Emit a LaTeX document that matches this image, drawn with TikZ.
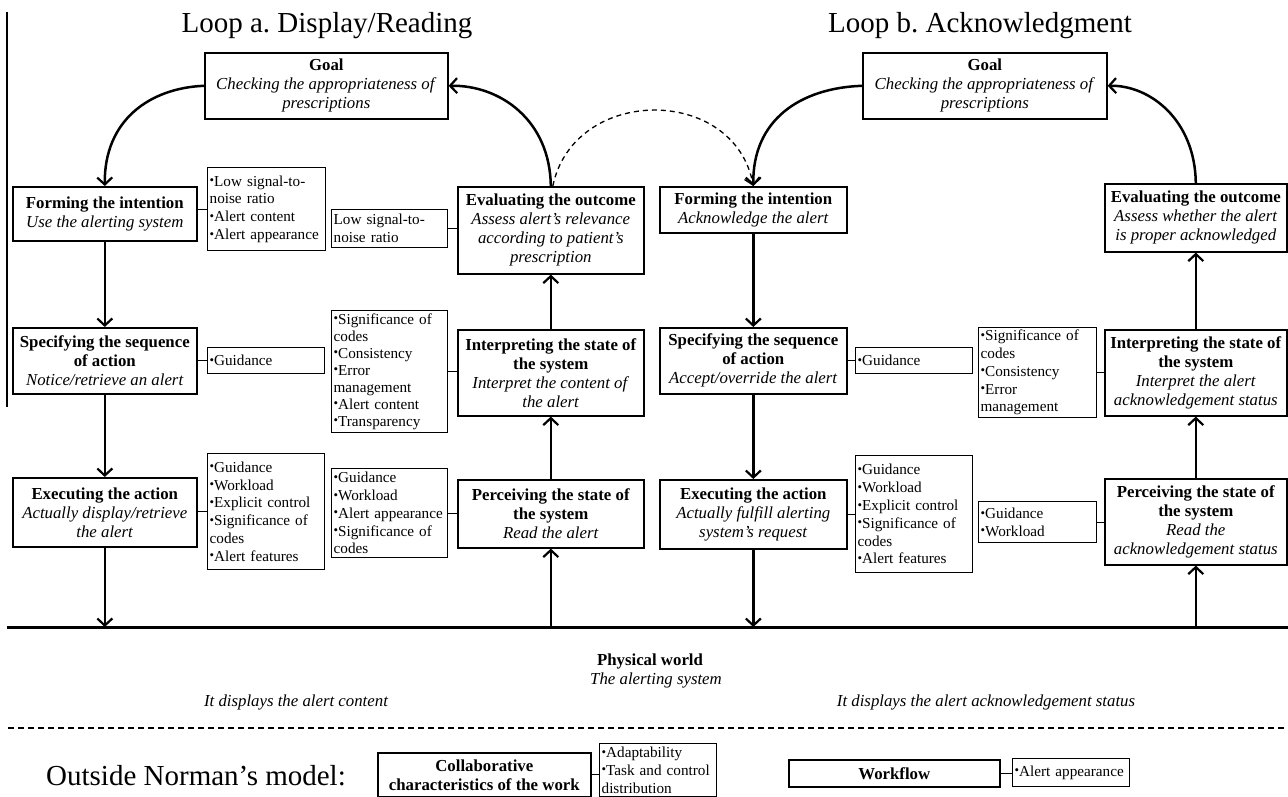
\documentclass[tikz,border=0pt]{standalone}
\usepackage{fontspec}
\setmainfont{Liberation Serif}
\usepackage{graphicx}
\usetikzlibrary{arrows.meta}
\newcommand{\bul}{\raisebox{0.2ex}{\scalebox{0.85}{•}}}
\frenchspacing
\begin{document}
\begin{tikzpicture}[x=1pt,y=-1pt,
  mbox/.style={draw, line width=1.6pt, align=center, inner sep=0pt, anchor=north west,
    font=\fontsize{16.8}{19}\selectfont},
  abox/.style={draw, line width=1.3pt, align=left, inner sep=2pt, anchor=north west,
    font=\fontsize{15.2}{17.8}\selectfont},
  arr/.style={line width=2.5pt, -{Straight Barb[length=7pt,width=15pt,line width=2.2pt]}},
  dasharr/.style={line width=1.3pt, dash pattern=on 5pt off 4pt,
    -{Straight Barb[length=7pt,width=15pt,line width=1.3pt]}},
  conn/.style={line width=1.2pt},
  title/.style={anchor=base, inner sep=0pt, font=\fontsize{29}{32}\selectfont\frenchspacing},
  itext/.style={inner sep=0pt, font=\fontsize{16.8}{19}\selectfont\itshape},
]
\useasboundingbox (0,0) rectangle (1288,797);
\fill[white] (0,0) rectangle (1288,797);

% stray left rule
\draw[conn] (7,12) -- (7,407);

% titles
\node[title] (titleA) at (327,33) {Loop a.\ Display/Reading};
\node[title] (titleB) at (980,33) {Loop b.\ Acknowledgment};

% goals
\node[mbox, minimum width=243pt, minimum height=66pt] (goalA) at (204,52)
  {\textbf{Goal}\\\textit{Checking the appropriateness of}\\\textit{prescriptions}};
\node[mbox, minimum width=244pt, minimum height=66pt] (goalB) at (862,52)
  {\textbf{Goal}\\\textit{Checking the appropriateness of}\\\textit{prescriptions}};

% loop a, left column
\node[mbox, minimum width=184pt, minimum height=54pt] (formA) at (12,186)
  {\textbf{Forming the intention}\\\textit{Use the alerting system}};
\node[mbox, minimum width=184pt, minimum height=66pt] (specA) at (12,327)
  {\textbf{Specifying the sequence}\\\textbf{of action}\\\textit{Notice/retrieve an alert}};
\node[mbox, minimum width=184pt, minimum height=69pt] (execA) at (12,477)
  {\textbf{Executing the action}\\\textit{Actually display/retrieve}\\\textit{the alert}};

% loop a, right column
\node[mbox, minimum width=186pt, minimum height=87pt] (evalA) at (457,186)
  {\textbf{Evaluating the outcome}\\\textit{Assess alert’s relevance}\\\textit{according to patient’s}\\\textit{prescription}};
\node[mbox, minimum width=186pt, minimum height=86pt] (interpA) at (457,329)
  {\textbf{Interpreting the state of}\\\textbf{the system}\\\textit{Interpret the content of}\\\textit{the alert}};
\node[mbox, minimum width=186pt, minimum height=68pt] (percA) at (457,479)
  {\textbf{Perceiving the state of}\\\textbf{the system}\\\textit{Read the alert}};

% loop b, left column
\node[mbox, minimum width=187pt, minimum height=46pt] (formB) at (659,186)
  {\textbf{Forming the intention}\\\textit{Acknowledge the alert}};
\node[mbox, minimum width=187pt, minimum height=66pt] (specB) at (659,327)
  {\textbf{Specifying the sequence}\\\textbf{of action}\\\textit{Accept/override the alert}};
\node[mbox, minimum width=187pt, minimum height=69pt] (execB) at (659,479)
  {\textbf{Executing the action}\\\textit{Actually fulfill alerting}\\\textit{system’s request}};

% loop b, right column
\node[mbox, minimum width=182pt, minimum height=68pt] (evalB) at (1104,183)
  {\textbf{Evaluating the outcome}\\\textit{Assess whether the alert}\\\textit{is proper acknowledged}};
\node[mbox, minimum width=182pt, minimum height=86pt] (interpB) at (1104,329)
  {\textbf{Interpreting the state of}\\\textbf{the system}\\\textit{Interpret the alert}\\\textit{acknowledgement status}};
\node[mbox, minimum width=182pt, minimum height=86pt] (percB) at (1104,478)
  {\textbf{Perceiving the state of}\\\textbf{the system}\\\textit{Read the}\\\textit{acknowledgement status}};

% attribute boxes
\node[abox, text width=114pt, minimum height=83pt] (fAattr) at (207,167)
  {\bul Low signal-to-\\noise ratio\\\bul Alert content\\\bul Alert appearance};
\node[abox, text width=112pt, minimum height=38pt] (lowSig) at (331,209)
  {Low signal-to-\\noise ratio};
\node[abox, text width=113pt, minimum height=26pt] (guidA) at (207,347)
  {\bul Guidance};
\node[abox, text width=112pt, minimum height=122pt, font=\fontsize{15.2}{17}\selectfont] (sigA) at (331,310)
  {\bul Significance of\\codes\\\bul Consistency\\\bul Error\\management\\\bul Alert content\\\bul Transparency};
\node[abox, text width=113pt, minimum height=116pt] (execAttrA) at (207,453)
  {\bul Guidance\\\bul Workload\\\bul Explicit control\\\bul Significance of\\codes\\\bul Alert features};
\node[abox, text width=112pt, minimum height=89pt] (percAttrA) at (331,468)
  {\bul Guidance\\\bul Workload\\\bul Alert appearance\\\bul Significance of\\codes};
\node[abox, text width=113pt, minimum height=26pt] (guidB) at (855,347)
  {\bul Guidance};
\node[abox, text width=114pt, minimum height=90pt] (sigB) at (978,327)
  {\bul Significance of\\codes\\\bul Consistency\\\bul Error\\management};
\node[abox, text width=113pt, minimum height=117pt] (execAttrB) at (855,455)
  {\bul Guidance\\\bul Workload\\\bul Explicit control\\\bul Significance of\\codes\\\bul Alert features};
\node[abox, text width=114pt, minimum height=41pt] (percAttrB) at (978,501)
  {\bul Guidance\\\bul Workload};

% attribute connectors
\draw[conn] (formA.east |- fAattr.west) -- (fAattr.west);
\draw[conn] (lowSig.east) -- (lowSig.east -| evalA.west);
\draw[conn] (specA.east |- guidA.west) -- (guidA.west);
\draw[conn] (sigA.east) -- (sigA.east -| interpA.west);
\draw[conn] (execA.east |- execAttrA.west) -- (execAttrA.west);
\draw[conn] (percAttrA.east) -- (percAttrA.east -| percA.west);
\draw[conn] (specB.east |- guidB.west) -- (guidB.west);
\draw[conn] (sigB.east) -- (sigB.east -| interpB.west);
\draw[conn] (execB.east |- execAttrB.west) -- (execAttrB.west);
\draw[conn] (percAttrB.east) -- (percAttrB.east -| percB.west);

% physical world line
\coordinate (wl) at (7,627);
\coordinate (wr) at (1288,627);
\draw[line width=3pt] (wl) -- (wr);

% vertical arrows
\draw[arr] (formA) -- (specA);
\draw[arr] (specA) -- (execA);
\draw[arr] (execA.south) -- (execA.south |- wl);
\draw[arr] (percA.south |- wl) -- (percA.south);
\draw[arr] (percA) -- (interpA);
\draw[arr] (interpA) -- (evalA);
\draw[arr] (formB) -- (specB);
\draw[arr] (specB) -- (execB);
\draw[arr] (execB.south) -- (execB.south |- wl);
\draw[arr] (percB.south |- wl) -- (percB.south);
\draw[arr] (percB) -- (interpB);
\draw[arr] (interpB) -- (evalB);

% curved arrows
\draw[arr] (goalA.west) .. controls (150,88) and (104,120) .. (formA.north);
\draw[arr] (evalA.north) .. controls (550,120) and (500,85) .. (goalA.east);
\draw[arr] (goalB.west) .. controls (800,88) and (752.5,120) .. (formB.north);
\draw[arr] (evalB.north) .. controls (1195,120) and (1150,85) .. (goalB.east);
\draw[dasharr] ([xshift=2pt]evalA.north) .. controls (574,85) and (735,85) .. (formB.north);

% physical world texts
\node[anchor=base, inner sep=0pt, font=\fontsize{16.8}{19}\selectfont\bfseries] (phys) at (650,665) {Physical world};
\node[anchor=base, itext] (alertsys) at (656,684) {The alerting system};
\node[itext] (dispA) at (296,702) {It displays the alert content};
\node[itext] (dispB) at (986,702) {It displays the alert acknowledgement status};

% dashed separator
\draw[line width=1.2pt, dash pattern=on 6pt off 4pt] (8,728) -- (1288,728);

% outside Norman's model
\node[title] (outside) at (196,785) {Outside Norman’s model:};
\node[mbox, minimum width=213pt, minimum height=44pt, font=\fontsize{16.8}{19}\selectfont\bfseries] (collab) at (377,752)
  {Collaborative\\characteristics of the work};
\node[abox, text width=113pt, minimum height=53pt] (adapt) at (599,743)
  {\bul Adaptability\\\bul Task and control\\distribution};
\draw[conn] (collab.east) -- (collab.east -| adapt.west);
\node[mbox, minimum width=211pt, minimum height=27pt, font=\fontsize{16.8}{19}\selectfont\bfseries] (workflow) at (788,759)
  {Workflow};
\node[abox, text width=113pt, minimum height=28pt] (alertApp) at (1012,758)
  {\bul Alert appearance};
\draw[conn] (workflow.east) -- (workflow.east -| alertApp.west);
\end{tikzpicture}
\end{document}
